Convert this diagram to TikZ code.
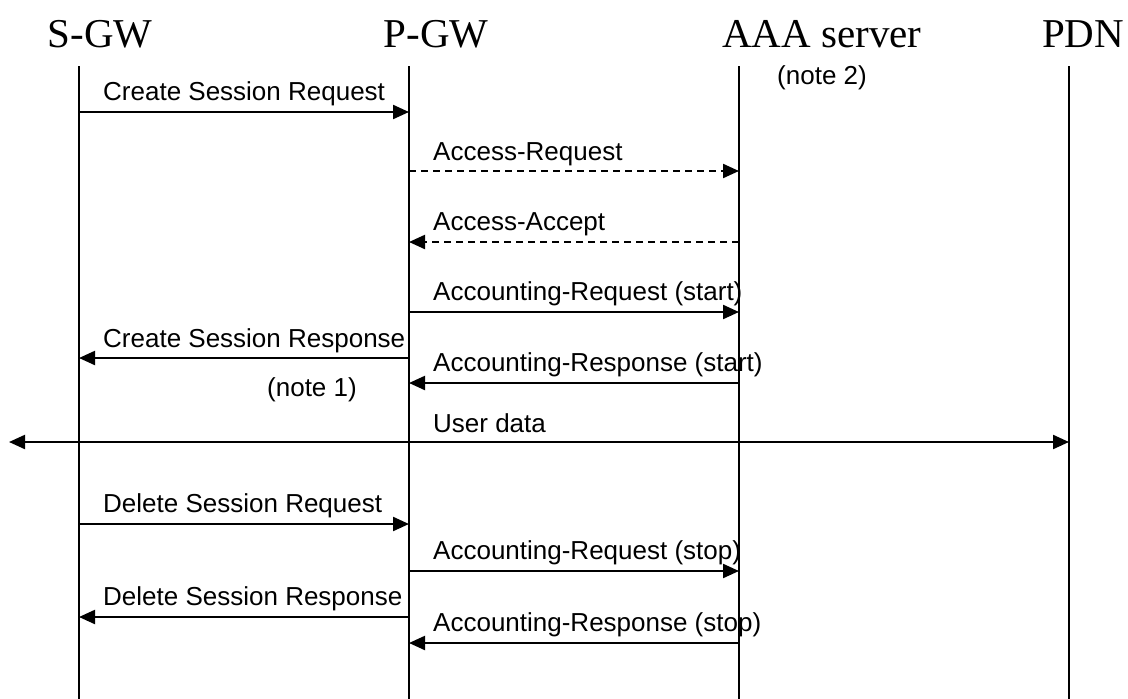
\documentclass[tikz,border=0pt]{standalone}
\usepackage{fontspec}
\setmainfont{Liberation Serif}
\newfontfamily\arialfont{Liberation Sans}
\usetikzlibrary{arrows.meta}
\tikzset{
  lifeline/.style={line width=1.3pt},
  msg/.style={line width=2.2pt,-{Triangle[length=16pt,width=14pt]}},
  dmsg/.style={msg,dash pattern=on 7pt off 5pt},
  both/.style={line width=2.2pt,{Triangle[length=16pt,width=14pt]}-{Triangle[length=16pt,width=14pt]}},
  hdr/.style={font=\fontsize{41}{45}\selectfont,inner sep=0pt,anchor=base},
  lbl/.style={font=\arialfont\fontsize{26}{29}\selectfont,inner sep=0pt,anchor=base west},
}
\begin{document}
\begin{tikzpicture}[x=1pt,y=-1pt]
\useasboundingbox (0,0) rectangle (1128,699);
% lifelines
\coordinate (sgw) at (79,66);   \coordinate (sgwE) at (79,699);
\coordinate (pgw) at (409,66);  \coordinate (pgwE) at (409,699);
\coordinate (aaa) at (739,66);  \coordinate (aaaE) at (739,699);
\coordinate (pdn) at (1069,66); \coordinate (pdnE) at (1069,699);
\draw[lifeline] (sgw) -- (sgwE);
\draw[lifeline] (pgw) -- (pgwE);
\draw[lifeline] (aaa) -- (aaaE);
\draw[lifeline] (pdn) -- (pdnE);
% headers
\node[hdr] (hsgw) at (100,47) {S-GW};
\node[hdr] (hpgw) at (436,47) {P-GW};
\node[hdr] (haaa) at (822,47) {AAA server};
\node[hdr] (hpdn) at (1083,47) {PDN};
\node[lbl,anchor=base] (n2) at (822,84) {(note 2)};
% message rows
\coordinate (y1) at (0,112);
\coordinate (y2) at (0,171);
\coordinate (y3) at (0,242);
\coordinate (y4) at (0,312);
\coordinate (y5) at (0,358);
\coordinate (y6) at (0,383);
\coordinate (y7) at (0,442);
\coordinate (y8) at (0,524);
\coordinate (y9) at (0,571);
\coordinate (y10) at (0,617);
\coordinate (y11) at (0,643);
\coordinate (far) at (9,442);
% messages
\draw[msg] (sgw|-y1) -- (pgw|-y1);
\node[lbl] (t1) at (103,100) {Create Session Request};
\draw[dmsg] (pgw|-y2) -- (aaa|-y2);
\node[lbl] (t2) at (433,160) {Access-Request};
\draw[dmsg] (aaa|-y3) -- (pgw|-y3);
\node[lbl] (t3) at (433,230) {Access-Accept};
\draw[msg] (pgw|-y4) -- (aaa|-y4);
\node[lbl] (t4) at (433,300) {Accounting-Request (start)};
\draw[msg] (pgw|-y5) -- (sgw|-y5);
\node[lbl] (t5) at (103,347) {Create Session Response};
\draw[msg] (aaa|-y6) -- (pgw|-y6);
\node[lbl] (t6) at (433,371) {Accounting-Response (start)};
\node[lbl,anchor=base] (n1) at (312,396) {(note 1)};
\draw[both] (far) -- (pdn|-y7);
\node[lbl] (t7) at (433,432) {User data};
\draw[msg] (sgw|-y8) -- (pgw|-y8);
\node[lbl] (t8) at (103,512) {Delete Session Request};
\draw[msg] (pgw|-y9) -- (aaa|-y9);
\node[lbl] (t9) at (433,559) {Accounting-Request (stop)};
\draw[msg] (pgw|-y10) -- (sgw|-y10);
\node[lbl] (t10) at (103,605) {Delete Session Response};
\draw[msg] (aaa|-y11) -- (pgw|-y11);
\node[lbl] (t11) at (433,631) {Accounting-Response (stop)};
\end{tikzpicture}
\end{document}
